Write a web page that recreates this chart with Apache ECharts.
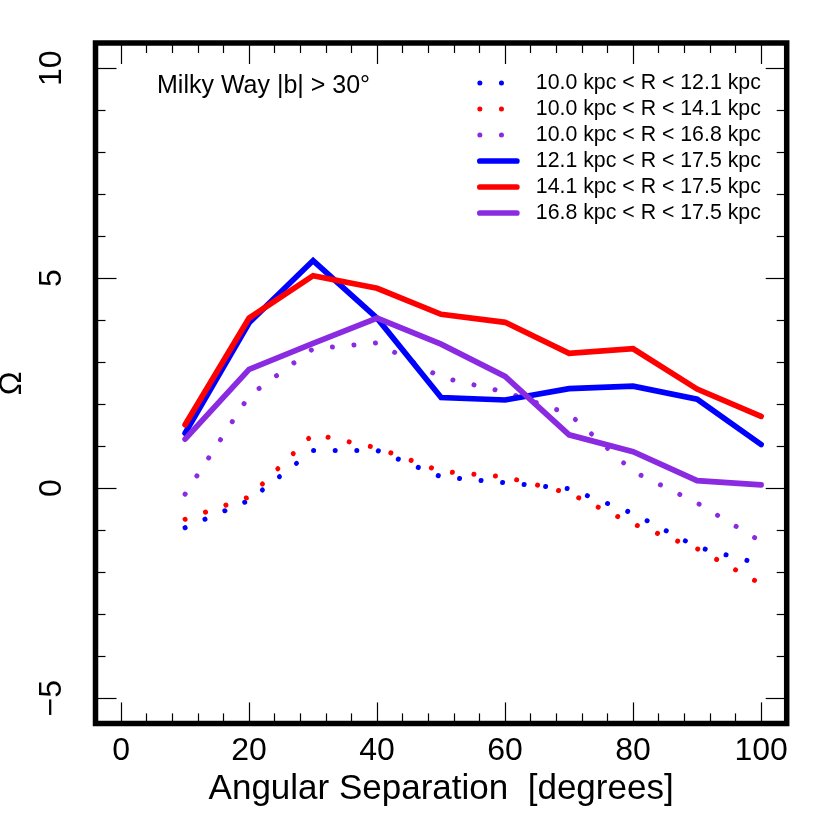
<!DOCTYPE html>
<html>
<head>
<meta charset="utf-8">
<script src="https://cdn.jsdelivr.net/npm/echarts@6/dist/echarts.min.js"></script>
<style>
  html, body { margin: 0; padding: 0; background: #fff; }
  #chart { width: 830px; height: 830px; }
</style>
</head>
<body>
<div id="chart"></div>
<script>
const separations = [10, 20, 30, 40, 50, 60, 70, 80, 90, 100];

// dotted: inner shells
const omega10to121 = [-0.94, -0.29, 0.90, 0.90, 0.27, 0.13, -0.01, -0.60, -1.40, -1.81];
const omega10to141 = [-0.74, -0.21, 1.29, 0.96, 0.40, 0.27, -0.12, -0.85, -1.44, -2.28];
const omega10to168 = [-0.14, 2.20, 3.32, 3.46, 2.64, 2.29, 1.77, 0.40, -0.35, -1.27];
// solid: outer shells
const omega121to175 = [1.31, 3.94, 5.42, 4.05, 2.16, 2.10, 2.37, 2.43, 2.12, 1.04];
const omega141to175 = [1.51, 4.05, 5.06, 4.76, 4.14, 3.95, 3.21, 3.32, 2.36, 1.71];
const omega168to175 = [1.17, 2.83, 3.45, 4.05, 3.43, 2.66, 1.27, 0.87, 0.18, 0.08];

const xMajorTicks = [0, 20, 40, 60, 80, 100];
const xMinorTicks = [4, 8, 12, 16, 24, 28, 32, 36, 44, 48, 52, 56, 64, 68, 72, 76, 84, 88, 92, 96];
const yMajorTicks = [-5, 0, 5, 10];
const yMinorTicks = [-4, -3, -2, -1, 1, 2, 3, 4, 6, 7, 8, 9];

const SERIES = [
  { name: '10.0 kpc < R < 12.1 kpc', data: omega10to121, color: '#0000ff', dotted: true },
  { name: '10.0 kpc < R < 14.1 kpc', data: omega10to141, color: '#ff0000', dotted: true },
  { name: '10.0 kpc < R < 16.8 kpc', data: omega10to168, color: '#8a2be2', dotted: true },
  { name: '12.1 kpc < R < 17.5 kpc', data: omega121to175, color: '#0000ff', dotted: false },
  { name: '14.1 kpc < R < 17.5 kpc', data: omega141to175, color: '#ff0000', dotted: false },
  { name: '16.8 kpc < R < 17.5 kpc', data: omega168to175, color: '#8a2be2', dotted: false },
];

const FONT = 'Liberation Sans';
const X_MIN = -4, X_MAX = 104, Y_MIN = -5.6, Y_MAX = 10.6;

function lineStyleOf(s) {
  return s.dotted
    ? { color: s.color, width: 5, type: [0.01, 21.6], cap: 'round' }
    : { color: s.color, width: 5.7, type: 'solid', cap: 'round', join: 'miter' };
}

function tickAxis(dim, position, ticks, len, labels) {
  const base = {
    type: 'value',
    position,
    min: dim === 'x' ? X_MIN : Y_MIN,
    max: dim === 'x' ? X_MAX : Y_MAX,
    axisLine: { show: false, onZero: false },
    splitLine: { show: false },
    axisTick: {
      show: true, inside: true, length: len, customValues: ticks,
      lineStyle: { color: '#000', width: 1.2 },
    },
    axisLabel: { show: false },
  };
  if (labels) {
    base.axisLabel = {
      show: true,
      customValues: ticks,
      color: '#000',
      fontFamily: FONT,
      fontSize: 32,
      margin: dim === 'x' ? 12 : 27,
      rotate: dim === 'y' ? 90 : 0,
      formatter: (v) => String(v).replace('-', '\u2212'),
    };
  }
  return base;
}

const xMain = tickAxis('x', 'bottom', xMajorTicks, 21, true);
xMain.name = 'Angular Separation  [degrees]';
xMain.nameLocation = 'middle';
xMain.nameGap = 46;
xMain.nameTextStyle = { color: '#000', fontFamily: FONT, fontSize: 35 };

const yMain = tickAxis('y', 'left', yMajorTicks, 21, true);
yMain.name = '\u03A9';
yMain.nameLocation = 'middle';
yMain.nameGap = 55;
yMain.nameTextStyle = { color: '#000', fontFamily: FONT, fontSize: 32 };

const chart = echarts.init(document.getElementById('chart'));
chart.setOption({
  backgroundColor: '#fff',
  animation: false,
  title: {
    text: 'Milky Way |b| > 30\u00B0',
    left: 157,
    top: 74,
    padding: 0,
    textStyle: { color: '#000', fontFamily: FONT, fontSize: 25, fontWeight: 'normal' },
  },
  legend: {
    orient: 'vertical',
    left: 477,
    top: 70,
    padding: 0,
    itemGap: 0,
    itemWidth: 37,
    itemHeight: 2,
    itemStyle: { opacity: 0 },
    textStyle: { color: '#000', fontFamily: FONT, fontSize: 21.3, lineHeight: 26, padding: [0, 0, 0, 14] },
    data: SERIES.map(s => ({ name: s.name, lineStyle: lineStyleOf(s), itemStyle: { opacity: 0 } })),
  },
  grid: {
    left: 95.5, top: 43, width: 691.2, height: 680.4,
    outerBoundsMode: 'none',
    containLabel: false,
    show: true, borderColor: '#000', borderWidth: 5.5, backgroundColor: 'transparent',
  },
  xAxis: [
    xMain,
    tickAxis('x', 'bottom', xMinorTicks, 10, false),
    tickAxis('x', 'top', xMajorTicks, 21, false),
    tickAxis('x', 'top', xMinorTicks, 10, false),
  ],
  yAxis: [
    yMain,
    tickAxis('y', 'left', yMinorTicks, 10, false),
    tickAxis('y', 'right', yMajorTicks, 21, false),
    tickAxis('y', 'right', yMinorTicks, 10, false),
  ],
  series: SERIES.map(s => ({
    name: s.name,
    type: 'line',
    xAxisIndex: 0,
    yAxisIndex: 0,
    symbol: 'none',
    showSymbol: false,
    color: s.color,
    lineStyle: lineStyleOf(s),
    data: separations.map((x, i) => [x, s.data[i]]),
  })),
});
</script>
</body>
</html>
